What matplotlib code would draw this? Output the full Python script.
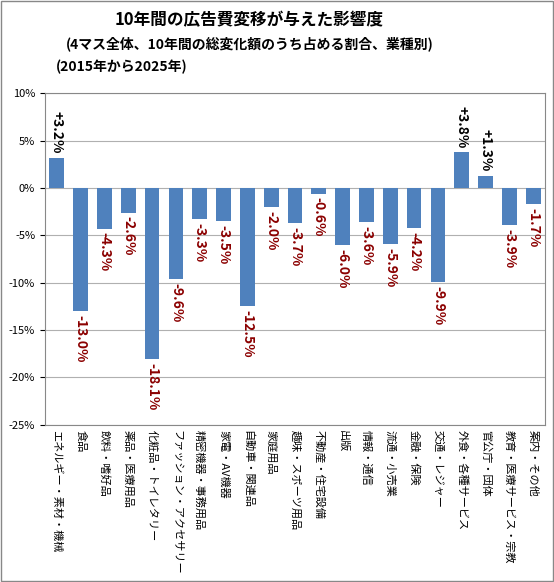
import matplotlib
matplotlib.use("Agg")
import matplotlib.pyplot as plt

plt.rcParams['font.family'] = ['Noto Sans CJK JP', 'DejaVu Sans']

categories = ["エネルギー・素材・機械", "食品", "飲料・嗜好品", "薬品・医療用品", "化粧品・トイレタリー",
              "ファッション・アクセサリー", "精密機器・事務用品", "家電・AV機器", "自動車・関連品", "家庭用品",
              "趣味・スポーツ用品", "不動産・住宅設備", "出版", "情報・通信", "流通・小売業", "金融・保険",
              "交通・レジャー", "外食・各種サービス", "官公庁・団体", "教育・医療サービス・宗教", "案内・その他"]
values = [3.2, -13.0, -4.3, -2.6, -18.1, -9.6, -3.3, -3.5, -12.5, -2.0, -3.7, -0.6, -6.0, -3.6, -5.9,
          -4.2, -9.9, 3.8, 1.3, -3.9, -1.7]
yticks = [10, 5, 0, -5, -10, -15, -20, -25]

fig = plt.figure(figsize=(5.54, 5.82), dpi=100)
ax = fig.add_axes([0.081, 0.27, 0.903, 0.57])
x = range(len(values))
ax.bar(x, values, width=0.62, color="#4F81BD", zorder=3)
ax.set_ylim(-25, 10)
ax.set_xlim(-0.5, len(values) - 0.5)
ax.set_yticks(yticks)
ax.set_yticklabels([f"{t}%" for t in yticks], fontsize=8)
ax.grid(axis='y', color="#B0B0B0", linewidth=0.8, zorder=0)
ax.set_xticks(list(x))
ax.set_xticklabels(categories, rotation=-90, fontsize=8, va='top', ha='center')
ax.tick_params(axis='x', length=0)
for s in ax.spines.values():
    s.set_color("#888888")
for i, v in enumerate(values):
    if v >= 0:
        ax.text(i, v + 0.4, f"+{v:.1f}%", rotation=-90, ha='center', va='bottom',
                fontsize=10, fontweight='bold', color='black')
    else:
        ax.text(i, v - 0.4, f"{v:.1f}%", rotation=-90, ha='center', va='top',
                fontsize=10, fontweight='bold', color='#8B0000')

fig.text(0.45, 0.965, "10年間の広告費変移が与えた影響度", ha='center', va='center', fontsize=12, fontweight='bold')
fig.text(0.45, 0.925, "(4マス全体、10年間の総変化額のうち占める割合、業種別)", ha='center', va='center', fontsize=10, fontweight='bold')
fig.text(0.1, 0.885, "(2015年から2025年)", ha='left', va='center', fontsize=10, fontweight='bold')

fig.patches.append(plt.Rectangle((0.002, 0.002), 0.996, 0.996, transform=fig.transFigure,
                                 fill=False, edgecolor="#888888", linewidth=1))
fig.savefig("out.png", dpi=100)
